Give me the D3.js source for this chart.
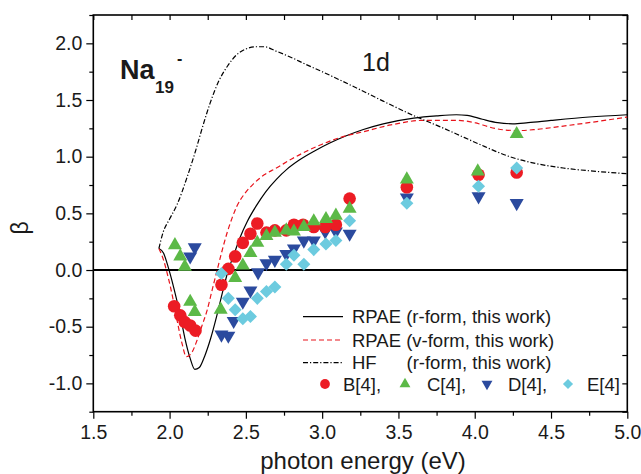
<!DOCTYPE html>
<html>
<head>
<meta charset="utf-8">
<script src="https://cdn.jsdelivr.net/npm/d3@7"></script>
<style>
    body { margin: 0; background: #fff; }
    svg { display: block; font-family: "Liberation Sans", Arial, sans-serif; }
</style>
</head>
<body>
<svg id="chart" width="641" height="474"></svg>
<script>
    // theory curves [photon energy, beta]
    const rpaeR = [[1.93,0.19],[1.96,0.15],[1.99,0.03],[2.03,-0.17],[2.07,-0.40],[2.10,-0.60],[2.135,-0.78],[2.165,-0.876],
        [2.195,-0.86],[2.23,-0.76],[2.27,-0.60],[2.31,-0.40],[2.35,-0.18],[2.385,0.0],[2.42,0.13],[2.46,0.28],[2.51,0.43],
        [2.57,0.57],[2.63,0.69],[2.70,0.80],[2.77,0.89],[2.85,0.97],[2.95,1.05],[3.05,1.12],[3.15,1.18],[3.27,1.24],
        [3.40,1.29],[3.60,1.34],[3.75,1.36],[3.88,1.37],[3.95,1.365],[4.05,1.33],[4.15,1.30],[4.25,1.29],[4.35,1.30],
        [4.50,1.32],[4.75,1.35],[5.0,1.37]];
    const rpaeV = [[1.93,0.19],[1.96,0.09],[1.99,-0.06],[2.02,-0.24],[2.05,-0.45],[2.08,-0.64],[2.11,-0.765],[2.14,-0.74],
        [2.18,-0.62],[2.21,-0.50],[2.245,-0.36],[2.28,-0.17],[2.31,-0.01],[2.34,0.15],[2.375,0.32],[2.41,0.46],[2.44,0.56],
        [2.49,0.67],[2.55,0.76],[2.62,0.84],[2.70,0.90],[2.80,0.98],[2.90,1.05],[3.00,1.11],[3.12,1.17],[3.27,1.22],
        [3.45,1.28],[3.66,1.32],[3.88,1.32],[4.00,1.30],[4.10,1.26],[4.20,1.235],[4.28,1.23],[4.40,1.24],[4.58,1.27],
        [4.80,1.31],[5.0,1.35]];
    const hfR = [[1.93,0.19],[1.957,0.33],[2.00,0.45],[2.05,0.58],[2.11,0.80],[2.17,1.05],[2.22,1.28],[2.265,1.47],
        [2.32,1.66],[2.38,1.80],[2.44,1.90],[2.50,1.95],[2.56,1.97],[2.62,1.97],[2.70,1.93],[2.79,1.88],[2.90,1.81],
        [3.00,1.75],[3.095,1.69],[3.25,1.59],[3.40,1.49],[3.62,1.35],[3.78,1.26],[3.93,1.17],[4.03,1.11],[4.23,1.00],
        [4.40,0.94],[4.58,0.90],[4.80,0.87],[5.0,0.85]];

    // experimental points from [4]
    const seriesB = [[2.03,-0.32],[2.07,-0.40],[2.10,-0.46],[2.135,-0.49],[2.17,-0.535],[2.34,-0.13],[2.385,0.01],
        [2.43,0.12],[2.48,0.24],[2.53,0.32],[2.575,0.41],[2.635,0.33],[2.69,0.35],[2.765,0.35],[2.815,0.40],
        [2.875,0.40],[2.945,0.38],[3.02,0.38],[3.09,0.40],[3.18,0.63],[3.555,0.73],[4.025,0.84],[4.275,0.86]];
    const seriesC = [[2.035,0.22],[2.07,0.12],[2.10,0.03],[2.135,-0.28],[2.165,-0.37],[2.335,-0.35],[2.43,-0.07],
        [2.48,0.04],[2.53,0.15],[2.575,0.24],[2.635,0.30],[2.69,0.33],[2.765,0.35],[2.815,0.34],[2.88,0.38],
        [2.945,0.43],[3.025,0.45],[3.09,0.48],[3.18,0.54],[3.555,0.80],[4.02,0.87],[4.275,1.20]];
    const seriesD = [[2.135,0.12],[2.165,0.20],[2.34,-0.57],[2.385,-0.58],[2.42,-0.45],[2.48,-0.28],[2.53,-0.18],
        [2.58,-0.02],[2.635,0.06],[2.69,0.09],[2.765,0.14],[2.815,0.19],[2.88,0.26],[2.945,0.26],[3.02,0.34],
        [3.09,0.34],[3.18,0.32],[3.555,0.64],[4.025,0.65],[4.275,0.59]];
    const seriesE = [[2.34,-0.03],[2.385,-0.25],[2.43,-0.35],[2.48,-0.43],[2.53,-0.41],[2.575,-0.25],[2.635,-0.19],
        [2.69,-0.15],[2.765,0.05],[2.815,0.13],[2.88,0.05],[2.945,0.18],[3.025,0.23],[3.09,0.26],[3.18,0.435],
        [3.555,0.59],[4.025,0.74],[4.275,0.90]];

    const xTicks = [1.5, 2.0, 2.5, 3.0, 3.5, 4.0, 4.5, 5.0];
    const yTicks = [-1.0, -0.5, 0.0, 0.5, 1.0, 1.5, 2.0];
    const xMinor = [1.75, 2.25, 2.75, 3.25, 3.75, 4.25, 4.75];
    const yMinor = [-1.25, -0.75, -0.25, 0.25, 0.75, 1.25, 1.75, 2.25];

    const svg = d3.select("#chart");
    const pLeft = 93.3, pRight = 627.3, pTop = 15, pBottom = 411.7;
    const x = d3.scaleLinear().domain([1.5, 5.0]).range([pLeft, pRight]);
    const y = d3.scaleLinear().domain([-1.25, 2.25]).range([pBottom, pTop]);

    const fmt = d => d.toFixed(1);

    function styleAxis(g) {
        g.select(".domain").remove();
        g.selectAll(".tick line").attr("stroke", "#000").attr("stroke-width", 1.2);
        g.selectAll(".tick text").attr("fill", "#1a1a1a").style("font-size", "19.5px");
    }

    // bottom
    svg.append("g").attr("transform", `translate(0,${pBottom})`)
        .call(d3.axisBottom(x).tickValues(xTicks).tickFormat(fmt).tickSize(7).tickPadding(6))
        .call(styleAxis);
    svg.append("g").attr("transform", `translate(0,${pBottom})`)
        .call(d3.axisBottom(x).tickValues(xMinor).tickFormat("").tickSize(4))
        .call(styleAxis);
    // top (inward)
    svg.append("g").attr("transform", `translate(0,${pTop})`)
        .call(d3.axisTop(x).tickValues(xTicks.concat(xMinor)).tickFormat("").tickSize(-5))
        .call(styleAxis);
    // left
    svg.append("g").attr("transform", `translate(${pLeft},0)`)
        .call(d3.axisLeft(y).tickValues(yTicks).tickFormat(fmt).tickSize(7).tickPadding(4))
        .call(styleAxis);
    svg.append("g").attr("transform", `translate(${pLeft},0)`)
        .call(d3.axisLeft(y).tickValues(yMinor).tickFormat("").tickSize(4))
        .call(styleAxis);
    // right (inward)
    svg.append("g").attr("transform", `translate(${pRight},0)`)
        .call(d3.axisRight(y).tickValues(yTicks.concat(yMinor)).tickFormat("").tickSize(-5))
        .call(styleAxis);

    svg.append("rect")
        .attr("x", pLeft).attr("y", pTop)
        .attr("width", pRight - pLeft).attr("height", pBottom - pTop)
        .attr("fill", "none").attr("stroke", "#000").attr("stroke-width", 1.6);

    // zero line
    svg.append("line")
        .attr("x1", pLeft).attr("x2", pRight)
        .attr("y1", y(0)).attr("y2", y(0))
        .attr("stroke", "#000").attr("stroke-width", 2.2);

    const line = d3.line().x(d => x(d[0])).y(d => y(d[1])).curve(d3.curveMonotoneX);

    const curves = [
        { data: rpaeR, color: "#000", dash: null },
        { data: rpaeV, color: "#e8141c", dash: "5,3" },
        { data: hfR, color: "#000", dash: "5,2,1.2,2" }
    ];
    curves.forEach(c => {
        svg.append("path").datum(c.data)
            .attr("d", line)
            .attr("fill", "none")
            .attr("stroke", c.color)
            .attr("stroke-width", 1.2)
            .attr("stroke-dasharray", c.dash);
    });

    const sym = {
        B: { type: d3.symbolCircle, size: 125, rot: 0, color: "#ec1c24" },
        C: { type: d3.symbolTriangle, size: 85, rot: 0, color: "#5cb947" },
        D: { type: d3.symbolTriangle, size: 85, rot: 180, color: "#2b4a9e" },
        E: { type: d3.symbolSquare, size: 85, rot: 45, color: "#6ccbdf" }
    };

    function drawPoints(data, s) {
        svg.append("g").selectAll("path").data(data).join("path")
            .attr("d", d3.symbol().type(s.type).size(s.size))
            .attr("transform", d => `translate(${x(d[0])},${y(d[1])}) rotate(${s.rot})`)
            .attr("fill", s.color);
    }
    drawPoints(seriesD, sym.D);
    drawPoints(seriesB, sym.B);
    drawPoints(seriesC, sym.C);
    drawPoints(seriesE, sym.E);

    // legend
    const legRows = [
        { c: curves[0], label: "RPAE (r-form, this work)", cy: 316.7 },
        { c: curves[1], label: "RPAE (v-form, this work)", cy: 340 },
        { c: curves[2], label: "HF", cy: 362.7 }
    ];
    legRows.forEach(r => {
        svg.append("line")
            .attr("x1", 303).attr("x2", 343).attr("y1", r.cy).attr("y2", r.cy)
            .attr("stroke", r.c.color).attr("stroke-width", 1.2)
            .attr("stroke-dasharray", r.c.dash);
        svg.append("text").attr("x", 352).attr("y", r.cy + 6.5)
            .style("font-size", "18.5px").attr("fill", "#1a1a1a").text(r.label);
    });
    svg.append("text").attr("x", 406.5).attr("y", 362.7 + 6.5)
        .style("font-size", "18.5px").attr("fill", "#1a1a1a").text("(r-form, this work)");

    const legPts = [
        { s: sym.B, label: "B[4],", sx: 325, tx: 343 },
        { s: sym.C, label: "C[4],", sx: 405, tx: 427 },
        { s: sym.D, label: "D[4],", sx: 487, tx: 508 },
        { s: sym.E, label: "E[4]", sx: 568, tx: 587 }
    ];
    legPts.forEach(p => {
        svg.append("path")
            .attr("d", d3.symbol().type(p.s.type).size(p.s.size * 0.6))
            .attr("transform", `translate(${p.sx},384) rotate(${p.s.rot})`)
            .attr("fill", p.s.color);
        svg.append("text").attr("x", p.tx).attr("y", 384 + 6.5)
            .style("font-size", "18.5px").attr("fill", "#1a1a1a").text(p.label);
    });

    // labels
    svg.append("text").attr("x", 363).attr("y", 469).attr("text-anchor", "middle")
        .style("font-size", "24px").attr("fill", "#1a1a1a").text("photon energy (eV)");
    svg.append("text").attr("transform", "translate(28,228) rotate(-90)").attr("text-anchor", "middle")
        .style("font-size", "23px").attr("fill", "#1a1a1a").text("β");

    svg.append("text").attr("x", 120).attr("y", 79)
        .style("font-size", "27px").style("font-weight", "bold").attr("fill", "#1a1a1a").text("Na");
    svg.append("text").attr("x", 155).attr("y", 92.5)
        .style("font-size", "17px").style("font-weight", "bold").attr("fill", "#1a1a1a").text("19");
    svg.append("text").attr("x", 177).attr("y", 64)
        .style("font-size", "16px").style("font-weight", "bold").attr("fill", "#1a1a1a").text("-");
    svg.append("text").attr("x", 362).attr("y", 71)
        .style("font-size", "25px").attr("fill", "#1a1a1a").text("1d");
</script>
</body>
</html>
